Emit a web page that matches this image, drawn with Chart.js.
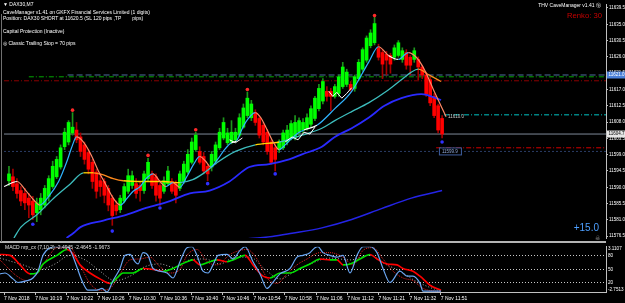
<!DOCTYPE html>
<html>
<head>
<meta charset="utf-8">
<script src="https://cdn.jsdelivr.net/npm/chart.js@4/dist/chart.umd.min.js"></script>
<style>
  body { margin: 0; background: #000; width: 625px; height: 303px; overflow: hidden; position: relative; font-family: "Liberation Sans", Arial, sans-serif; }
  #mainBox { position: absolute; left: 0; top: 0; width: 625px; height: 242px; }
  #macdBox { position: absolute; left: 0; top: 242px; width: 625px; height: 61px; }
  .t { position: absolute; color: #fff; font-size: 5px; line-height: 5px; white-space: pre; }
  .sep { position: absolute; left: 0; top: 241px; width: 606px; height: 2px; background: #b4b4b4; }
  .edge { position: absolute; left: 1px; top: 14px; width: 1px; height: 228px; background: #707070; }
</style>
</head>
<body>
<div id="mainBox"><canvas id="mainChart"></canvas></div>
<div id="macdBox"><canvas id="macdChart"></canvas></div>
<div class="sep"></div>
<div class="edge"></div>

<div class="t" style="left:3px;top:2px">▼ DAX30,M7</div>
<div class="t" style="left:3px;top:10px">CaveManager v1.41 on GKFX Financial Services Limited (1 digits)</div>
<div class="t" style="left:3px;top:15.5px">Position: DAX30 SHORT at 11620.5 (SL 120 pips ,TP        pips)</div>
<div class="t" style="left:3px;top:28.5px">Capital Protection (Inactive)</div>
<div class="t" style="left:3px;top:40.5px">◎ Classic Trailing Stop = 70 pips</div>
<div class="t" style="right:24px;top:3px">THV CaveManager v1.41 ⓢ</div>
<div class="t" style="right:23px;top:12px;font-size:7.7px;line-height:8px;color:#c80000">Renko: 30</div>
<div class="t" style="right:26px;top:223px;font-size:10px;line-height:10px;color:#4d9fff">+15.0</div>
<div class="t" style="right:25px;top:235px;font-size:6px;line-height:6px;color:#9a9a9a">☠</div>
<div class="t" style="left:5px;top:245px;color:#e0e0e0">MACD nrp_cx (7,10,2) -2.4945 -2.4645 -1.9673</div>

<script>
// candles (renko bars, index 0 = first visible bar)
const opens = [11591.8, 11592.9, 11591.0, 11589.1, 11588.3, 11587.0, 11586.2, 11583.0, 11583.8, 11585.1,
  11587.5, 11590.2, 11592.9, 11595.6, 11601.2, 11602.5, 11605.0, 11605.8, 11603.9, 11601.7,
  11599.6, 11596.9, 11594.2, 11591.8, 11591.6, 11589.7, 11587.0, 11585.1, 11583.8, 11586.2,
  11588.9, 11590.5, 11591.0, 11590.5, 11589.1, 11592.4, 11593.7, 11592.9, 11590.5, 11588.9,
  11591.0, 11591.6, 11591.0, 11589.7, 11591.6, 11594.2, 11596.9, 11600.4, 11599.9, 11598.5,
  11595.8, 11595.6, 11597.2, 11600.9, 11603.6, 11602.3, 11602.5, 11603.1, 11604.4, 11606.6,
  11609.8, 11609.2, 11610.6, 11609.0, 11607.1, 11605.2, 11602.5, 11600.9, 11600.4, 11600.9,
  11602.5, 11603.6, 11603.9, 11605.2, 11605.8, 11606.3, 11607.4, 11609.0, 11611.7, 11613.8,
  11616.5, 11616.5, 11615.1, 11615.9, 11617.8, 11618.4, 11618.4, 11617.3, 11620.0, 11622.6,
  11625.1, 11629.1, 11629.9, 11628.5, 11627.2, 11626.7, 11626.4, 11625.9, 11626.4, 11625.3,
  11627.2, 11625.9, 11625.3, 11625.3, 11623.2, 11621.0, 11619.7, 11615.1, 11612.5, 11609.0];
const closes = [11593.7, 11590.2, 11588.3, 11586.2, 11585.7, 11585.1, 11582.4, 11585.7, 11587.0, 11589.7,
  11592.4, 11595.8, 11597.7, 11600.9, 11605.2, 11607.9, 11606.6, 11603.1, 11599.9, 11597.7,
  11595.0, 11591.6, 11588.9, 11590.2, 11587.8, 11585.1, 11582.2, 11583.5, 11587.0, 11590.2,
  11593.2, 11593.2, 11588.3, 11589.1, 11593.7, 11596.9, 11590.5, 11587.8, 11587.0, 11591.8,
  11594.5, 11588.9, 11587.8, 11593.7, 11596.4, 11599.1, 11602.5, 11604.4, 11596.9, 11594.5,
  11593.7, 11599.1, 11601.7, 11605.2, 11607.9, 11605.0, 11605.2, 11605.2, 11609.2, 11611.9,
  11614.6, 11613.0, 11607.9, 11604.4, 11602.5, 11599.9, 11596.9, 11597.7, 11602.5, 11605.0,
  11605.8, 11607.6, 11607.9, 11608.4, 11607.9, 11609.2, 11611.7, 11614.6, 11617.3, 11619.2,
  11615.1, 11615.1, 11617.8, 11620.5, 11623.2, 11621.8, 11617.0, 11620.5, 11624.5, 11628.0,
  11631.2, 11632.6, 11635.2, 11625.9, 11624.0, 11625.1, 11624.0, 11628.5, 11629.9, 11627.7,
  11623.7, 11623.7, 11627.7, 11623.2, 11621.0, 11615.7, 11613.3, 11609.8, 11605.8, 11604.7];
const highs = [11595.8, 11595.0, 11592.4, 11590.2, 11589.7, 11588.3, 11587.5, 11587.0, 11588.3, 11590.5,
  11593.2, 11597.2, 11598.5, 11601.7, 11606.3, 11608.4, 11610.6, 11607.9, 11605.0, 11602.5,
  11600.4, 11597.7, 11595.0, 11593.7, 11592.4, 11590.5, 11587.8, 11586.2, 11587.8, 11591.0,
  11595.0, 11594.5, 11592.4, 11591.6, 11594.5, 11598.0, 11594.5, 11593.7, 11591.0, 11592.9,
  11595.8, 11592.4, 11591.8, 11594.5, 11597.2, 11600.4, 11603.6, 11605.2, 11601.2, 11599.6,
  11596.4, 11599.9, 11602.5, 11606.3, 11609.2, 11606.3, 11608.4, 11606.3, 11610.3, 11613.0,
  11616.3, 11614.0, 11611.4, 11609.8, 11607.9, 11606.0, 11603.1, 11601.7, 11603.1, 11605.8,
  11607.1, 11608.4, 11609.8, 11609.2, 11609.0, 11610.3, 11612.5, 11615.1, 11618.4, 11620.0,
  11617.8, 11617.3, 11618.4, 11621.0, 11624.5, 11622.6, 11619.2, 11621.0, 11625.3, 11628.5,
  11631.8, 11633.5, 11636.9, 11629.5, 11628.0, 11627.5, 11627.0, 11629.3, 11630.5, 11628.5,
  11628.0, 11626.4, 11628.5, 11626.0, 11623.7, 11621.8, 11620.5, 11615.9, 11613.0, 11609.8];
const lows = [11590.5, 11589.1, 11587.0, 11584.9, 11583.8, 11581.6, 11581.1, 11580.5, 11582.4, 11584.3,
  11586.2, 11589.7, 11592.4, 11595.0, 11600.4, 11601.7, 11604.4, 11602.3, 11598.5, 11596.4,
  11593.7, 11589.7, 11587.0, 11587.5, 11585.7, 11583.5, 11579.5, 11582.4, 11583.0, 11585.7,
  11588.3, 11589.7, 11587.0, 11586.2, 11588.3, 11591.8, 11589.7, 11586.2, 11585.0, 11588.3,
  11590.5, 11588.3, 11585.7, 11589.1, 11591.0, 11593.7, 11596.4, 11599.9, 11596.4, 11593.7,
  11591.8, 11594.5, 11596.4, 11600.4, 11603.1, 11601.7, 11602.0, 11602.5, 11603.9, 11606.3,
  11609.2, 11608.4, 11607.1, 11603.6, 11601.7, 11599.1, 11596.4, 11594.5, 11599.6, 11600.4,
  11601.7, 11603.1, 11603.1, 11604.4, 11605.0, 11605.8, 11606.6, 11608.4, 11611.1, 11613.0,
  11613.8, 11611.1, 11614.6, 11615.1, 11617.3, 11617.8, 11616.5, 11616.5, 11619.5, 11622.0,
  11624.5, 11628.5, 11629.3, 11625.1, 11620.0, 11621.0, 11621.5, 11625.1, 11625.9, 11624.5,
  11622.6, 11621.0, 11624.5, 11619.7, 11620.0, 11615.1, 11612.5, 11609.2, 11605.0, 11603.6];

// fractal markers
const upFractalBars = [16, 35, 47, 60, 92];
const upFractalPrices = [11611.3, 11598.8, 11605.9, 11617.0, 11637.4];
const downFractalBars = [6, 26, 38, 50, 67, 109];
const downFractalPrices = [11579.8, 11577.9, 11584.3, 11591.0, 11593.7, 11602.5];

// fast colour-changing average
const fastPos = [-1.25, 2, 4.25, 6.25, 7.75, 10, 12.5, 14.5, 15.75, 17, 18.75, 20.75, 22.5, 24.25, 26.25, 28,
  29.75, 31.25, 33, 34.5, 36.25, 38, 39.5, 41.25, 43, 44.75, 46.5, 48, 49.5, 50.75, 52.5, 54.25, 56, 57.25,
  58.75, 60.25, 62, 63.5, 65, 66.5, 68, 69.5, 71.25, 72.75, 74.25, 77.5, 82, 86.25, 90.5, 93, 95.5, 98,
  100.5, 102.5, 104.5, 107, 110];
const fastVal = [11590.2, 11591.6, 11589.1, 11586.5, 11585.1, 11587.5, 11591.6, 11596.9, 11600.9, 11603.9,
  11602.5, 11598.8, 11594.5, 11591.0, 11587.0, 11585.1, 11587.0, 11588.9, 11590.2, 11592.4, 11593.7,
  11591.6, 11590.2, 11591.3, 11590.0, 11592.9, 11596.4, 11598.5, 11597.2, 11595.6, 11597.7, 11600.4,
  11602.3, 11602.8, 11606.3, 11609.0, 11610.6, 11609.0, 11605.8, 11602.5, 11600.4, 11601.7, 11603.6,
  11605.0, 11605.8, 11607.1, 11611.7, 11616.5, 11624.5, 11628.8, 11626.4, 11625.3, 11627.2, 11625.9,
  11622.6, 11616.5, 11609.5];

// white price-hugging line (drawn only in places)
const whitePos = [55.5, 57, 58.75, 60, 69.5, 71.25, 72.75, 74.25, 75.75, 77, 79, 80.5, 81.5, 82.5, 83.75, 85, 86.25];
const whiteVal = [11603.1, 11602.3, 11603.6, null, 11602.5, 11603.9, 11603.1, 11605.2, 11604.7, 11606.6, null,
  11616.5, 11615.1, 11616.2, 11614.6, 11615.9, 11617.5];

// medium average (teal / yellow / orange)
const midPos = [1.25, 3, 7, 11.25, 15.5, 18.75, 21.25, 23.75, 26.25, 28.75, 33.75, 38.75, 43, 46.25, 48.75,
  52.5, 57, 62, 68, 73.75, 78.75, 82, 86.25, 90.5, 95, 98.75, 101.25, 103, 105.75, 108.75];
const midVal = [11576.0, 11579.0, 11582.4, 11587.0, 11591.0, 11594.0, 11594.0, 11593.4, 11592.4, 11591.8,
  11591.6, 11591.6, 11591.3, 11592.1, 11593.7, 11596.9, 11599.9, 11601.7, 11602.5, 11604.4, 11606.3,
  11608.4, 11610.9, 11613.3, 11616.5, 11619.7, 11621.8, 11622.6, 11621.0, 11619.2];

// slow blue averages
const slowPos = [14.5, 16.25, 18, 23.75, 29.5, 34.5, 40.5, 45.5, 50.5, 55.5, 60.5, 65.5, 70.5, 73.75, 78.75,
  82, 86.25, 90.5, 94.5, 98.75, 103.75, 108.75];
const slowVal = [11576.0, 11577.4, 11579.0, 11580.8, 11582.4, 11584.3, 11586.2, 11588.3, 11589.1, 11591.6,
  11595.6, 11596.4, 11597.7, 11599.1, 11601.2, 11603.9, 11606.3, 11609.2, 11612.5, 11614.6, 11615.7, 11614.1];
const slowestPos = [58, 66.25, 71.25, 78.75, 86.25, 93.75, 101.25, 109];
const slowestVal = [11575.6, 11576.4, 11577.3, 11578.8, 11581.1, 11584.1, 11587.0, 11589.1];

// horizontal price levels
const levelPrices = [11621.0, 11620.5, 11619.4, 11604.7, 11599.9, 11610.0, 11600.9];

// price axis
const priceTicks = [11576.5, 11581.0, 11585.5, 11590.0, 11594.5, 11599.0, 11603.5, 11608.0, 11612.5,
  11617.0, 11621.5, 11626.0, 11630.5, 11635.0, 11639.5];

// MACD panel (0..100 normalised)
const macdPos = [-1.25, 0, 2, 3.25, 5.5, 7, 8.25, 9.5, 11.25, 12.5, 15.5, 16.25, 17.5, 19.25, 20.75, 23, 24.25,
  25.5, 27, 28.75, 30, 31.25, 32.5, 33.25, 34.5, 35.75, 37, 38.75, 40.5, 42, 43.75, 45.5, 46.75, 48, 49.5,
  50.75, 52, 53.25, 55.5, 57, 58.75, 60, 62, 63.75, 65.5, 66.75, 68.75, 71.25, 73, 74.5, 76.25, 77.5, 78.25,
  79.5, 81.25, 83, 84.5, 86.25, 88, 89.5, 91.25, 93, 94.5, 96.25, 98.75, 100.5, 102, 103.75, 104.5, 107, 109];
const macdVal = [40, 42, 29, 21, 25, 31, 46, 81, 98, 100, 100, 94, 67, 25, 4, 4, 8, 0, 25, 52,
  81, 83, 67, 62, 87, 81, 52, 46, 42, 31, 67, 98, 100, 81, 46, 42, 60, 81, 83, 73,
  92, 100, 67, 40, 8, 19, 40, 52, 77, 81, 87, 98, 100, 87, 81, 77, 81, 42, 81, 100,
  100, 87, 52, 21, 46, 35, 35, 19, 2, 2, 2];
const signalPos = [-1.25, 1.25, 3.75, 6.25, 8, 9.5, 13, 15.5, 16.75, 18.75, 21.25, 23.75, 26.25, 28, 29.5, 32,
  34.5, 37, 39.5, 42, 43.75, 45.5, 47, 48.75, 51.25, 53, 55.5, 57, 60, 62, 64.5, 66.25, 68.75, 71.25, 73.75,
  76.25, 78.75, 81.25, 83, 84.5, 86.25, 88.75, 91.25, 93, 95.5, 98, 99.5, 102, 103.75, 106.25, 109];
const signalVal = [83, 81, 60, 40, 42, 62, 81, 94, 87, 60, 42, 29, 19, 31, 42, 42, 52, 50, 46, 52,
  60, 67, 71, 60, 67, 71, 67, 71, 81, 60, 35, 31, 42, 42, 52, 62, 73, 71, 71, 60,
  62, 73, 83, 73, 62, 60, 52, 46, 35, 15, 4];
const redDotPos = [-1.25, 3, 5.5, 8, 10.5, 13, 16.25, 18.75, 21.25, 23.75, 26.25, 28.75, 31.25, 33.75, 36.25,
  38.75, 41.25, 43.75, 45.5, 48, 50.5, 53, 56.25, 60.5, 63, 65.5, 68, 70.5, 73, 75.5, 78.75, 81.25, 84.5, 87,
  89.5, 92, 94.5, 97, 99.5, 102, 104.5, 109];
const redDotVal = [71, 35, 25, 40, 73, 98, 98, 60, 19, 4, 8, 40, 71, 73, 77, 56, 42, 50, 81, 94,
  67, 60, 83, 94, 73, 31, 19, 40, 60, 73, 87, 87, 77, 60, 92, 98, 73, 46, 31, 25, 8, 0];
const grayDotPos = [-1.25, 3.75, 8.75, 12.5, 16.25, 20, 23.75, 27.5, 31.25, 35, 38.75, 42.5, 46.25, 50, 53.75,
  57.5, 61.25, 65, 68.75, 72.5, 76.25, 81.25, 86.25, 91.25, 95, 98.75, 102.5, 106.25, 109];
const grayDotVal = [75, 62, 50, 62, 81, 71, 46, 25, 35, 56, 62, 54, 71, 73, 62, 77, 77, 50, 29, 46,
  62, 75, 71, 81, 62, 46, 25, 10, 2];
const macdTicks = [96, 80, 50, 20, 6];
const macdTickLabels = ['3.1107', '80', '50', '20', '-2.7513'];

// time axis
const timeLabels = ['7 Nov 2018', '7 Nov 10:19', '7 Nov 10:22', '7 Nov 10:26', '7 Nov 10:30', '7 Nov 10:36',
  '7 Nov 10:40', '7 Nov 10:46', '7 Nov 10:54', '7 Nov 10:58', '7 Nov 11:06', '7 Nov 11:12', '7 Nov 11:21',
  '7 Nov 11:32', '7 Nov 11:51'];

const X_MIN = -1.25, X_MAX = 150.25;
const FONT = '"Liberation Sans", Arial, sans-serif';

const pts = (pos, vals) => pos.map((x, i) => ({ x, y: vals[i] }));

function slopeColor(up, flat, down, thr) {
  return ctx => {
    const s = (ctx.p1.parsed.y - ctx.p0.parsed.y) / (ctx.p1.parsed.x - ctx.p0.parsed.x);
    return s > thr ? up : s < -thr ? down : flat;
  };
}

const bull = '#00ff00', bear = '#ff0000';
const bodyColors = closes.map((c, i) => c >= opens[i] ? bull : bear);
const wickColors = closes.map((c, i) => c >= opens[i] ? '#1c961c' : '#a30000');

// level line styles: colour, dash, first bar
const levelStyle = [
  ['#4f6f9f', [6, 3], 14.75],
  ['#00a800', [5, 2, 1, 2], 5],
  ['#8b0000', [5, 2, 1, 2], -1.25],
  ['#7f8a99', [], -1.25],
  ['#2a3d66', [2, 2], -1.25],
  ['#00c4c4', [5, 2, 1, 2], 109.5],
  ['#d00000', [5, 2, 1, 2], 107.5]
];

const levelSets = levelPrices.map((p, i) => ({
  type: 'line',
  data: [{ x: levelStyle[i][2], y: p }, { x: X_MAX, y: p }],
  borderColor: levelStyle[i][0],
  borderDash: levelStyle[i][1],
  borderWidth: 1,
  pointRadius: 0,
  order: 20
}));

// price boxes on axis and chart labels
const axisMarks = [
  { v: 11621.0, bg: '#4a7fd8', fg: '#ffffff' },
  { v: 11604.7, bg: '#e6e6e6', fg: '#000000' }
];

const boxPlugin = {
  id: 'boxes',
  afterDraw(chart) {
    const { ctx, scales: { x, y }, chartArea } = chart;
    ctx.save();
    ctx.font = '4.5px ' + FONT;
    ctx.textBaseline = 'middle';
    axisMarks.forEach(m => {
      const py = y.getPixelForValue(m.v);
      ctx.fillStyle = m.bg;
      ctx.fillRect(chartArea.right + 1, py - 3.5, 18, 7);
      ctx.fillStyle = m.fg;
      ctx.fillText(m.v.toFixed(1), chartArea.right + 2.5, py);
    });
    // labels of the target / stop lines
    const tpY = y.getPixelForValue(levelPrices[5]);
    ctx.fillStyle = '#c8c8c8';
    ctx.fillText(levelPrices[5].toFixed(1), x.getPixelForValue(110.5), tpY + 2);
    const slY = y.getPixelForValue(levelPrices[4]);
    const bx = x.getPixelForValue(108.2);
    ctx.fillStyle = '#000';
    ctx.fillRect(bx, slY - 3.5, 22, 7);
    ctx.strokeStyle = '#3f5f9f';
    ctx.lineWidth = 1;
    ctx.strokeRect(bx + 0.5, slY - 3.5, 22, 7);
    ctx.fillStyle = '#8fa8d8';
    ctx.fillText(levelPrices[4].toFixed(1), bx + 3, slY);
    ctx.restore();
  }
};

new Chart(document.getElementById('mainChart'), {
  type: 'line',
  data: {
    datasets: [
      ...levelSets,
      {
        type: 'bar',
        data: closes.map((c, i) => ({ x: i, y: [lows[i], highs[i]] })),
        backgroundColor: wickColors,
        barThickness: 1,
        grouped: false,
        order: 12
      },
      {
        type: 'bar',
        data: closes.map((c, i) => ({ x: i, y: [opens[i], c] })),
        backgroundColor: bodyColors,
        barThickness: 3,
        grouped: false,
        order: 11
      },
      {
        data: pts(slowestPos, slowestVal),
        borderColor: '#2424e6',
        borderWidth: 1.5,
        pointRadius: 0,
        cubicInterpolationMode: 'monotone',
        order: 6
      },
      {
        data: pts(slowPos, slowVal),
        borderColor: '#2a2aff',
        borderWidth: 1.8,
        pointRadius: 0,
        cubicInterpolationMode: 'monotone',
        order: 5
      },
      {
        data: pts(midPos, midVal),
        borderWidth: 1.3,
        pointRadius: 0,
        cubicInterpolationMode: 'monotone',
        segment: { borderColor: slopeColor('#3dbdbd', '#ffd400', '#ff8a1c', 0.15) },
        order: 4
      },
      {
        data: pts(fastPos, fastVal),
        borderWidth: 1.2,
        pointRadius: 0,
        cubicInterpolationMode: 'monotone',
        segment: { borderColor: slopeColor('#2fb4ff', '#ffffff', '#ff8866', 0.5) },
        order: 3
      },
      {
        data: pts(whitePos, whiteVal),
        borderColor: '#ffffff',
        borderWidth: 1,
        pointRadius: 0,
        spanGaps: false,
        order: 2
      },
      {
        type: 'scatter',
        data: pts(upFractalBars, upFractalPrices),
        backgroundColor: '#ff2a2a',
        borderWidth: 0,
        pointRadius: 1.8,
        order: 1
      },
      {
        type: 'scatter',
        data: pts(downFractalBars, downFractalPrices),
        backgroundColor: '#3030ff',
        borderWidth: 0,
        pointRadius: 1.8,
        order: 1
      }
    ]
  },
  options: {
    responsive: true,
    maintainAspectRatio: false,
    animation: false,
    events: [],
    layout: { padding: 0 },
    plugins: { legend: { display: false }, tooltip: { enabled: false } },
    scales: {
      x: { type: 'linear', min: X_MIN, max: X_MAX, display: false, offset: false },
      y: {
        position: 'right',
        min: 11576.0,
        max: 11640.6,
        afterFit(s) { s.width = 19; },
        afterBuildTicks(s) { s.ticks = priceTicks.map(v => ({ value: v })); },
        ticks: { color: '#ffffff', font: { size: 4.5, family: FONT }, padding: 1, callback: v => v.toFixed(1) },
        grid: { drawOnChartArea: false, drawTicks: true, tickLength: 2, color: '#c0c0c0' },
        border: { display: true, color: '#c0c0c0' }
      }
    }
  },
  plugins: [boxPlugin]
});

new Chart(document.getElementById('macdChart'), {
  type: 'line',
  data: {
    datasets: [
      {
        data: pts(grayDotPos, grayDotVal),
        borderColor: '#a8a8a8',
        borderDash: [1, 2],
        borderWidth: 1,
        pointRadius: 0,
        cubicInterpolationMode: 'monotone',
        order: 4
      },
      {
        data: pts(redDotPos, redDotVal),
        borderColor: '#e02020',
        borderDash: [1, 1],
        borderWidth: 1,
        pointRadius: 0,
        cubicInterpolationMode: 'monotone',
        order: 3
      },
      {
        data: pts(signalPos, signalVal),
        borderWidth: 1.6,
        pointRadius: 0,
        cubicInterpolationMode: 'monotone',
        segment: { borderColor: slopeColor('#00e000', '#00e000', '#ff0000', 0) },
        order: 2
      },
      {
        data: pts(macdPos, macdVal),
        borderColor: '#6aa6f2',
        borderWidth: 1.2,
        pointRadius: 0,
        cubicInterpolationMode: 'monotone',
        order: 1
      }
    ]
  },
  options: {
    responsive: true,
    maintainAspectRatio: false,
    animation: false,
    events: [],
    layout: { padding: { top: 2 } },
    plugins: { legend: { display: false }, tooltip: { enabled: false } },
    scales: {
      x: {
        type: 'linear',
        min: X_MIN,
        max: X_MAX,
        offset: false,
        afterFit(s) { s.height = 11; },
        afterBuildTicks(s) { s.ticks = timeLabels.map((t, j) => ({ value: j * 7.8 - 0.25 })); },
        ticks: {
          color: '#ffffff', font: { size: 5, family: FONT }, padding: 1, align: 'start',
          autoSkip: false, maxRotation: 0, minRotation: 0,
          callback: (v, i) => timeLabels[i]
        },
        grid: { drawOnChartArea: false, drawTicks: true, tickLength: 3, color: '#c0c0c0' },
        border: { display: true, color: '#c0c0c0' }
      },
      y: {
        position: 'right',
        min: 0,
        max: 100,
        afterFit(s) { s.width = 19; },
        afterBuildTicks(s) { s.ticks = macdTicks.map(v => ({ value: v })); },
        ticks: { color: '#ffffff', font: { size: 4.6, family: FONT }, padding: 2, callback: (v, i) => macdTickLabels[i] },
        grid: {
          drawTicks: false,
          color: c => (c.tick && (c.tick.value === 96 || c.tick.value === 6)) ? 'rgba(0,0,0,0)' : '#c8c8c8'
        },
        border: { display: true, color: '#c0c0c0', dash: [1, 2] }
      }
    }
  }
});
</script>
</body>
</html>
